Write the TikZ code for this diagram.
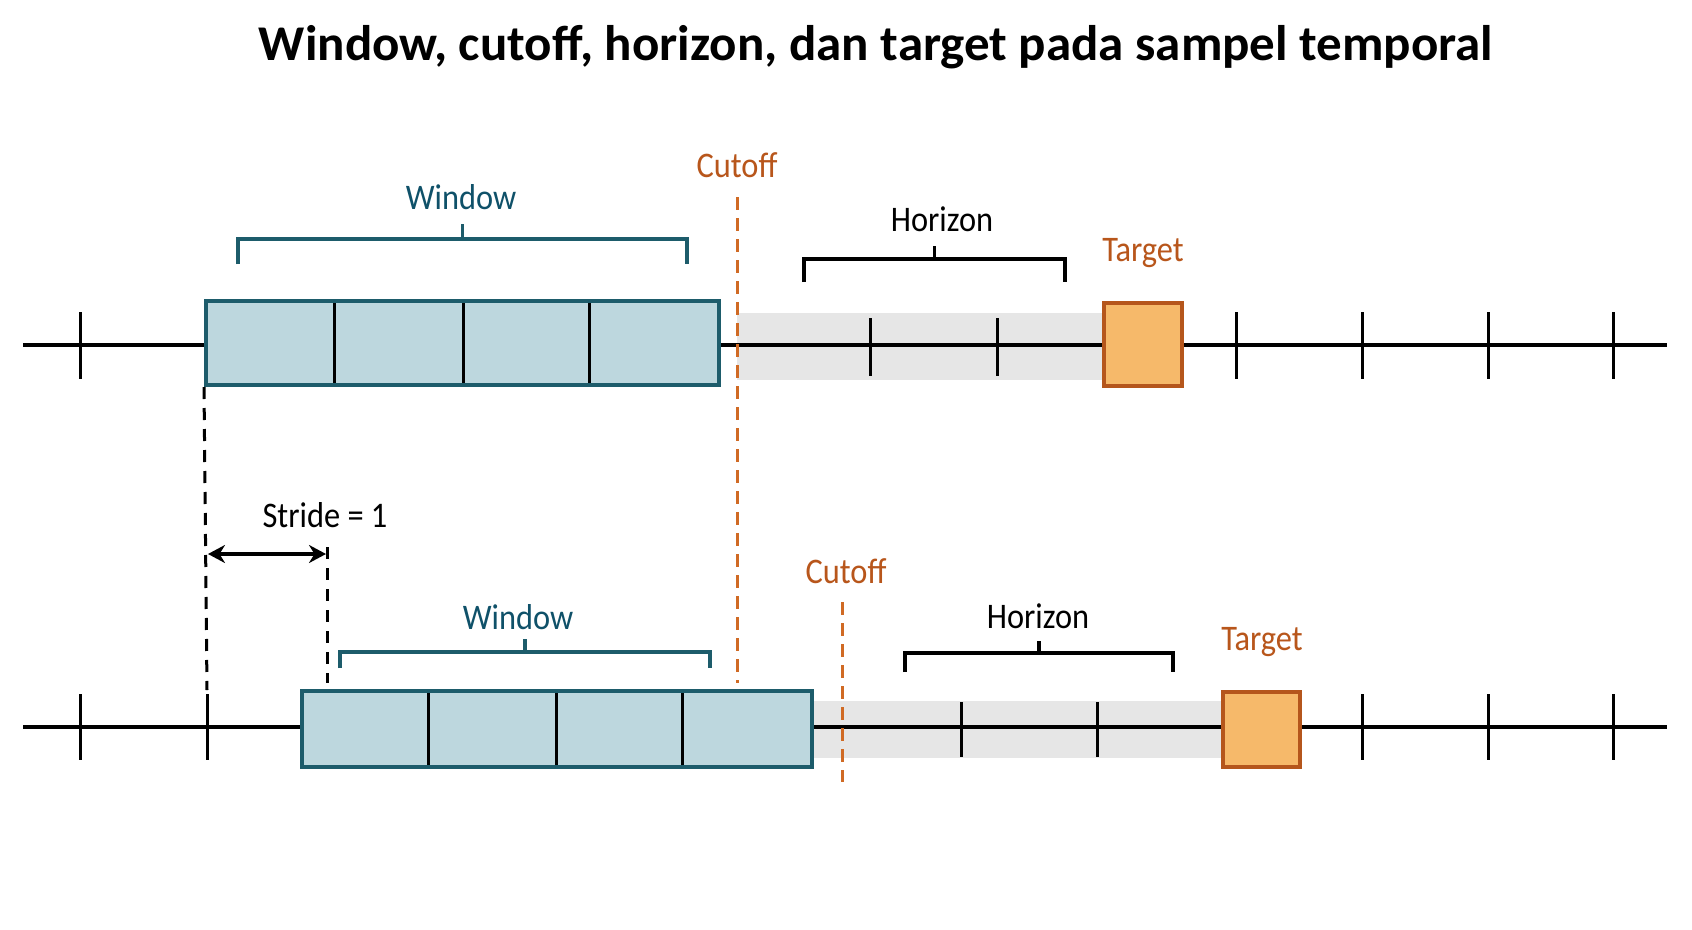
\documentclass[tikz,border=0pt]{standalone}
\usepackage{fontspec}
\setmainfont{Carlito}[FakeStretch=0.9]
\newfontfamily\titlefont{Carlito}[FakeStretch=1.02]
\usetikzlibrary{arrows.meta}
\definecolor{winedge}{HTML}{1D5C6B}
\definecolor{winfill}{HTML}{BDD7DE}
\definecolor{wintext}{HTML}{0F5169}
\definecolor{cuttext}{HTML}{B8561B}
\definecolor{cutstroke}{HTML}{D06A24}
\definecolor{tgtfill}{HTML}{F6B96A}
\definecolor{tgtedge}{HTML}{B5561C}
\definecolor{bandc}{HTML}{E6E6E6}
\begin{document}
\begin{tikzpicture}[x=1pt,y=-1pt,
  axisline/.style={line width=3.2pt},
  tickmark/.style={line width=3pt},
  winbox/.style={draw=winedge, fill=winfill, line width=4pt, inner sep=0pt},
  tgtbox/.style={draw=tgtedge, fill=tgtfill, line width=4pt, inner sep=0pt},
  bandbox/.style={fill=bandc, draw=none, inner sep=0pt},
  cutdash/.style={draw=cutstroke, line width=3pt, dash pattern=on 13pt off 8pt},
  guidedash/.style={draw=black, line width=3pt, dash pattern=on 12pt off 9pt},
  winbrk/.style={draw=winedge, line width=3.3pt},
  hbrk/.style={draw=black, line width=3.3pt},
  lbl/.style={font=\fontsize{36}{40}\selectfont, anchor=base, inner sep=0pt},
]
\useasboundingbox[fill=white] (0,0) rectangle (1692,929);

% title
\node[font=\titlefont\fontsize{50}{56}\selectfont\bfseries, anchor=base, inner sep=0pt] (title) at (876,60) {Window, cutoff, horizon, dan target pada sampel temporal};

% ---------- row 1 ----------
\node[bandbox, minimum width=367pt, minimum height=67pt] (band1) at (920.5,346.5) {};
\coordinate (a1l) at (23,345);
\coordinate (a1r) at (1667,345);
\draw[axisline] (a1l) -- (a1r);
\foreach \x in {80,1236,1362,1488,1613} \draw[tickmark] (\x,312) -- (\x,379);
\foreach \x in {870,997} \draw[tickmark] (\x,318) -- (\x,376);
\node[winbox, minimum width=513pt, minimum height=84pt] (w1) at (462.5,343) {};
\foreach \x in {334,463,589} \draw[tickmark] (\x,303) -- (\x,383);
\node[tgtbox, minimum width=78pt, minimum height=83pt] (t1) at (1143,344.5) {};

% ---------- row 2 ----------
\node[bandbox, minimum width=411pt, minimum height=57pt] (band2) at (1017.5,729.5) {};
\coordinate (a2l) at (23,727);
\coordinate (a2r) at (1667,727);
\draw[axisline] (a2l) -- (a2r);
\foreach \x in {80,207,1362,1488,1613} \draw[tickmark] (\x,694) -- (\x,760);
\foreach \x in {961,1097} \draw[tickmark] (\x,702) -- (\x,757);
\node[winbox, minimum width=510pt, minimum height=76pt] (w2) at (557,729) {};
\foreach \x in {428,556,682} \draw[tickmark] (\x,693) -- (\x,765);
\node[tgtbox, minimum width=77pt, minimum height=75pt] (t2) at (1261.5,729.5) {};

% ---------- cutoff lines ----------
\coordinate (c1a) at (737,197);
\coordinate (c1b) at (737,683);
\draw[cutdash] (c1a) -- (c1b);
\coordinate (c2a) at (842,602);
\coordinate (c2b) at (842,782);
\draw[cutdash] (c2a) -- (c2b);

% ---------- stride guides ----------
\coordinate (g1b) at (207,690);
\draw[guidedash] (w1.south west) -- (g1b);
\coordinate (g2a) at (327,547);
\coordinate (g2b) at (327,683);
\draw[guidedash] (g2a) -- (g2b);
\coordinate (s1) at (208,554);
\coordinate (s2) at (326,554);
\draw[line width=3.3pt, {Stealth[length=17pt,width=18pt]}-{Stealth[length=17pt,width=18pt]}] (s1) -- (s2);

% ---------- brackets ----------
\draw[winbrk] (238,264) -- (238,239) -- (687,239) -- (687,264);
\draw[winbrk] (462.5,239) -- (462.5,224);
\draw[hbrk] (804,282) -- (804,259) -- (1065,259) -- (1065,282);
\draw[hbrk] (934.5,259) -- (934.5,246);
\draw[winbrk] (340,668) -- (340,652) -- (710,652) -- (710,668);
\draw[winbrk] (525,652) -- (525,639);
\draw[hbrk] (905,672) -- (905,653) -- (1173,653) -- (1173,672);
\draw[hbrk] (1039,653) -- (1039,641);

% ---------- labels ----------
\node[lbl, text=wintext] (lw1) at (461,209) {Window};
\node[lbl, text=cuttext] (lc1) at (737,177) {Cutoff};
\node[lbl] (lh1) at (942,231) {Horizon};
\node[lbl, text=cuttext] (lt1) at (1143,261) {Target};
\node[lbl] (ls) at (325,527) {Stride = 1};
\node[lbl, text=wintext] (lw2) at (518,629) {Window};
\node[lbl, text=cuttext] (lc2) at (846,583) {Cutoff};
\node[lbl] (lh2) at (1038,628) {Horizon};
\node[lbl, text=cuttext] (lt2) at (1262,650) {Target};
\end{tikzpicture}
\end{document}
